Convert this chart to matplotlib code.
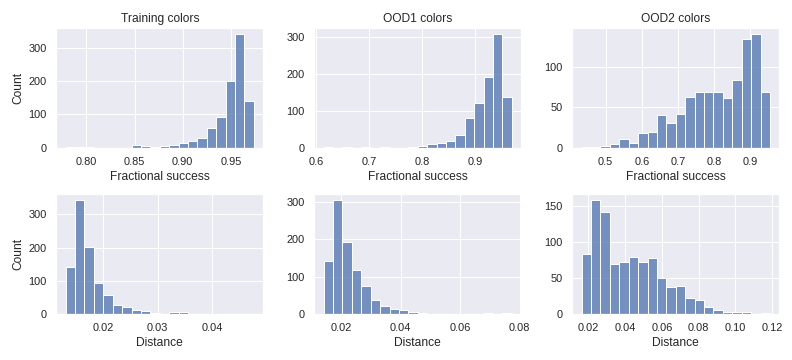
import numpy as np
import matplotlib
matplotlib.use("Agg")
import matplotlib.pyplot as plt
import matplotlib.colors as mcolors
import seaborn as sns

# histogram counts (20 bins each)
titles = ["Training colors", "OOD1 colors", "OOD2 colors"]

succ_train_range = (0.7786, 0.9738)
succ_train = [1, 1, 1, 0, 0, 0, 0, 7, 4, 1, 4, 7, 13, 19, 28, 58, 91, 200, 342, 139]

succ_ood1_range = (0.6145, 0.9698)
succ_ood1 = [1, 0, 1, 0, 1, 0, 1, 0, 0, 1, 4, 11, 13, 19, 33, 79, 120, 190, 308, 136]

succ_ood2_range = (0.4338, 0.9537)
succ_ood2 = [1, 1, 2, 4, 11, 6, 18, 19, 41, 31, 42, 63, 69, 69, 69, 61, 84, 135, 141, 69]

dist_train_range = (0.01319, 0.04756)
dist_train = [141, 343, 201, 92, 56, 27, 21, 12, 8, 3, 1, 6, 6, 1, 1, 1, 0, 1, 1, 1]

dist_ood1_range = (0.01416, 0.0774)
dist_ood1 = [142, 305, 193, 118, 75, 38, 21, 13, 11, 5, 3, 1, 1, 1, 1, 0, 1, 3, 0, 3]

dist_ood2_range = (0.01638, 0.1188)
dist_ood2 = [84, 159, 142, 69, 72, 80, 73, 78, 50, 37, 39, 22, 19, 10, 6, 3, 3, 2, 0, 1]

succ = [(succ_train_range, succ_train), (succ_ood1_range, succ_ood1), (succ_ood2_range, succ_ood2)]
dist = [(dist_train_range, dist_train), (dist_ood1_range, dist_ood1), (dist_ood2_range, dist_ood2)]

sns.set_theme(style="darkgrid")
plt.rcParams['font.family'] = ['Liberation Sans', 'DejaVu Sans']

face = mcolors.to_rgba("#4c72b0", 0.75)


def hist(ax, rng, counts):
    edges = np.linspace(rng[0], rng[1], len(counts) + 1)
    centers = (edges[:-1] + edges[1:]) / 2
    ax.hist(centers, bins=edges, weights=counts, facecolor=face,
            edgecolor="white", linewidth=1)
    ax.set_ylabel("Count")


fig, axes = plt.subplots(2, 3, figsize=(11, 5), dpi=72)

for i in range(3):
    hist(axes[0, i], *succ[i])
    axes[0, i].set_title(titles[i])
    axes[0, i].set_xlabel("Fractional success")
    hist(axes[1, i], *dist[i])
    axes[1, i].set_xlabel("Distance")
    if i > 0:
        axes[0, i].set_ylabel("")
        axes[1, i].set_ylabel("")

axes[0, 0].set_xticks([0.80, 0.85, 0.90, 0.95])
axes[0, 1].set_xticks([0.6, 0.7, 0.8, 0.9])
axes[0, 2].set_xticks([0.5, 0.6, 0.7, 0.8, 0.9])
axes[0, 2].set_yticks([0, 50, 100])

plt.subplots_adjust(left=0.071, right=0.984, top=0.922, bottom=0.128, wspace=0.246, hspace=0.39)
plt.savefig("out.png", dpi=72)
